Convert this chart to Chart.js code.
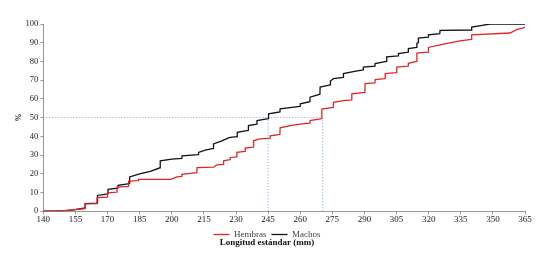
<!DOCTYPE html>
<html>
<head>
<meta charset="utf-8">
<script src="https://cdn.jsdelivr.net/npm/chart.js@4.4.1/dist/chart.umd.min.js"></script>
<style>
  html, body { margin: 0; padding: 0; background: #fff; }
  #wrap { width: 546px; height: 255px; }
</style>
</head>
<body>
<div id="wrap"><canvas id="myChart"></canvas></div>
<script>

// longitud estándar (mm) y porcentaje acumulado
var machosLen = [140, 145, 150, 154, 159.5, 159.5, 165.2, 165.3, 170.1, 170.2, 174.8, 174.9, 180.2, 180.3, 185, 190, 194.5, 194.6,
    200, 204.7, 204.8, 212.4, 212.5, 215.6, 219.4, 219.5, 223.4, 226.5, 227.3, 230.5, 230.6, 235.7, 235.8, 239.7, 239.8,
    245.1, 245.2, 250.5, 250.6, 259.9, 260, 264.5, 264.6, 269.2, 269.3, 274, 274.1, 275.5, 280.1, 280.2, 284.8, 289.4, 289.5,
    294.9, 295, 300.3, 300.4, 305.8, 305.9, 310.4, 310.5, 314.4, 314.5, 315.1, 315.2, 319.8, 319.9, 325.2, 325.3, 340, 340.1,
    345, 348.7, 365];
var machosPct = [0, 0, 0.3, 0.7, 1.8, 4.1, 4.3, 8.4, 9.3, 11.7, 12.3, 13.8, 14.7, 18.3, 20, 21.3, 23.2, 26.9,
    27.8, 28.2, 29.6, 30.2, 31.4, 32.6, 33.5, 35.9, 37.6, 39.2, 39.4, 39.8, 42.1, 43.2, 45.7, 46.5, 48.4,
    49.5, 52, 53, 54.7, 56, 57.4, 58.5, 60.9, 62.5, 66.3, 67.5, 69.5, 70.8, 71.5, 73.5, 74.5, 75.5, 77,
    77.5, 78.9, 80, 82.4, 83, 84.2, 85, 86.9, 87.5, 89.6, 90, 92.5, 93, 94.2, 94.8, 96.6, 96.8, 98.4,
    99.3, 100, 100];

var hembrasLen = [140, 145, 150, 154, 159.5, 159.6, 165, 165.1, 169.9, 170, 174.3, 174.4, 179.7, 179.8, 184.4, 184.5, 199.3,
    202.4, 204.6, 204.7, 208.6, 211.7, 211.8, 219.5, 221, 224.1, 224.2, 227.2, 227.3, 230.3, 230.4, 234.2, 234.3, 238.1, 238.2,
    240.5, 245.9, 246, 250.5, 250.6, 255.3, 260.8, 264.5, 264.6, 269.3, 270, 270.1, 275.4, 275.5, 280.2, 284, 284.1, 290.2, 290.3,
    294.9, 295, 299.6, 299.7, 305, 305.1, 310.4, 310.5, 314.4, 314.5, 319.8, 319.9, 325.3, 334.6, 340, 340.1, 358, 361.1, 365];
var hembrasPct = [0, 0, 0.3, 0.7, 1.4, 3.9, 4, 7.2, 7.5, 9.8, 10.2, 12.9, 13.3, 16.1, 16.3, 17, 17,
    18.3, 18.6, 19.7, 20.2, 20.6, 23.3, 23.5, 24.7, 25, 26.9, 27.5, 28.7, 29, 31.4, 32, 33.7, 34.2, 37.6,
    38.5, 39, 40.3, 41, 44.5, 45.7, 46.6, 47, 48.4, 49.3, 49.5, 54.5, 55.5, 58.2, 59.1, 59.5, 62.7, 63.5, 68.1,
    68.5, 70.3, 70.8, 73.5, 74, 77, 77.5, 79, 80, 84.4, 85, 87.5, 88.9, 91, 91.8, 94.2, 95.2, 97, 98.2];

// longitud al 50 %
var mediana = [245, 270.5];

function toPoints(xs, ys) {
    return xs.map(function (x, i) { return { x: x, y: ys[i] }; });
}

var refColor = '#6fa8dc';
var refStyle = { borderColor: refColor, borderWidth: 1, borderDash: [1, 2], pointRadius: 0, fill: false };

var chartId = document.getElementById('myChart').getContext('2d');

Chart.defaults.font.family = "'Liberation Serif', 'Times New Roman', serif";
Chart.defaults.color = '#222';

var myChart = new Chart(chartId, {
    type: 'line',
    data: {
        datasets: [{
            label: 'Hembras',
            data: toPoints(hembrasLen, hembrasPct),
            borderColor: '#e0262b',
            backgroundColor: '#e0262b',
            borderWidth: 1.3,
            pointRadius: 0,
            tension: 0
        }, {
            label: 'Machos',
            data: toPoints(machosLen, machosPct),
            borderColor: '#111',
            backgroundColor: '#111',
            borderWidth: 1.3,
            pointRadius: 0,
            tension: 0
        },
        Object.assign({ label: 'ref', data: [{ x: 140, y: 50 }, { x: mediana[1], y: 50 }] }, refStyle),
        Object.assign({ label: 'ref', data: [{ x: mediana[0], y: 0 }, { x: mediana[0], y: 50 }] }, refStyle),
        Object.assign({ label: 'ref', data: [{ x: mediana[1], y: 0 }, { x: mediana[1], y: 50 }] }, refStyle)
        ]
    },
    options: {
        responsive: true,
        maintainAspectRatio: false,
        animation: false,
        layout: { padding: { left: 9, right: 21, top: 24, bottom: 6 } },
        scales: {
            x: {
                type: 'linear',
                min: 140,
                max: 365,
                ticks: { stepSize: 15, font: { size: 9 }, padding: 0, maxRotation: 0 },
                grid: { drawOnChartArea: false, tickLength: 3, color: '#999' },
                border: { color: '#999' }
            },
            y: {
                min: 0,
                max: 100,
                ticks: { stepSize: 10, font: { size: 8.5 }, padding: 2 },
                grid: { drawOnChartArea: false, tickLength: 3, color: '#999' },
                border: { color: '#999' },
                title: { display: true, text: '%', font: { size: 8, weight: 'bold' }, padding: { top: 5, bottom: 0 } }
            }
        },
        plugins: {
            legend: {
                display: true,
                position: 'bottom',
                labels: {
                    filter: function (item) { return item.text !== 'ref'; },
                    usePointStyle: true,
                    pointStyle: 'line',
                    pointStyleWidth: 16,
                    boxWidth: 16,
                    padding: 5,
                    font: { size: 9 },
                    color: '#444'
                }
            },
            title: {
                display: true,
                position: 'bottom',
                text: 'Longitud estándar (mm)',
                font: { size: 9, weight: 'bold' },
                color: '#111',
                padding: { top: -12, bottom: 0 }
            },
            tooltip: { enabled: false }
        }
    }
});
</script>
</body>
</html>
